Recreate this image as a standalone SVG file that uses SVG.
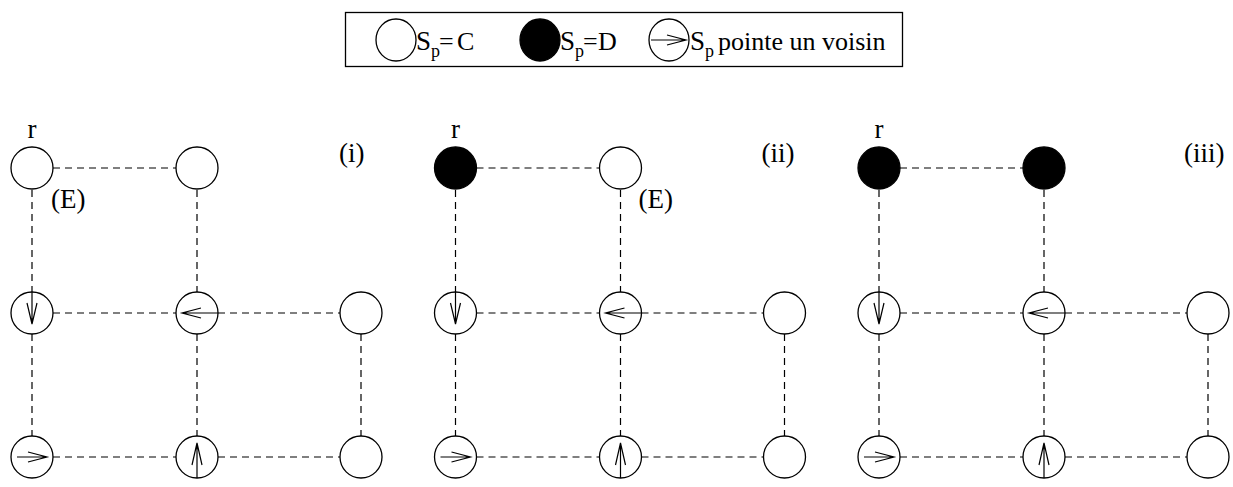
<svg xmlns="http://www.w3.org/2000/svg" width="1233" height="487" viewBox="0 0 1233 487">
<style>
.n{fill:#fff;stroke:#000;stroke-width:1.3}
.b{fill:#000;stroke:#000;stroke-width:1.3}
.e{stroke:#000;stroke-width:1.2;stroke-dasharray:7 5;fill:none}
.a{stroke:#000;stroke-width:1.2;fill:none}
</style>
<defs>
<path id="ad" class="a" d="M0,-21 V11 M-5,-10 L0,11 L5,-10"/>
<path id="al" class="a" d="M21,0 H-15 M4,-5 L-15,0 L4,5"/>
<path id="ar" class="a" d="M-15,0 H15 M-4,-5 L15,0 L-4,5"/>
<path id="au" class="a" d="M0,21 V-14 M-5,8 L0,-14 L5,8"/>
</defs>
<g id="legend" font-family="Liberation Serif, Times New Roman, serif" fill="#000">
<rect x="345.5" y="12.5" width="557" height="54" fill="#fff" stroke="#000" stroke-width="1.3"/>
<ellipse class="n" cx="396" cy="40" rx="20" ry="21"/>
<text font-size="27" x="416" y="50">S</text><text font-size="18" x="431" y="57">p</text><text font-size="26" x="439" y="50">=</text><text font-size="26" x="457" y="50">C</text>
<ellipse class="b" cx="540" cy="40" rx="20" ry="21"/>
<text font-size="27" x="560" y="50">S</text><text font-size="18" x="575" y="57">p</text><text font-size="26" x="583" y="50">=</text><text font-size="26" x="598" y="50">D</text>
<ellipse class="n" cx="669" cy="40" rx="20" ry="21"/>
<path class="a" d="M651,40 H686 M667,35 L686,40 L667,45"/>
<text font-size="27" x="690" y="50">S</text><text font-size="18" x="705" y="57">p</text><text font-size="26" x="718" y="50">pointe un voisin</text>
</g>
<g id="edges">
<path class="e" d="M53,168H176M32,190V292M197,190V292M53,313H176M218,313H340M32,334V436M197,334V436M361,334V436M53,457H176M218,457H340"/>
<path class="e" transform="translate(423.5,0)" d="M53,168H176M32,190V292M197,190V292M53,313H176M218,313H340M32,334V436M197,334V436M361,334V436M53,457H176M218,457H340"/>
<path class="e" transform="translate(847,0)" d="M53,168H176M32,190V292M197,190V292M53,313H176M218,313H340M32,334V436M197,334V436M361,334V436M53,457H176M218,457H340"/>
</g>
<g id="panel-i" font-family="Liberation Serif, Times New Roman, serif" font-size="27" fill="#000">
<text x="32" y="138" text-anchor="middle">r</text>
<text x="51" y="208">(E)</text>
<text x="339" y="162">(i)</text>
<g id="i-n1"><circle class="n" cx="32" cy="168" r="21"/></g>
<g id="i-n2"><circle class="n" cx="197" cy="168" r="21"/></g>
<g id="i-n3"><circle class="n" cx="32" cy="313" r="21"/><use href="#ad" x="32" y="313"/></g>
<g id="i-n4"><circle class="n" cx="197" cy="313" r="21"/><use href="#al" x="197" y="313"/></g>
<g id="i-n5"><circle class="n" cx="361" cy="313" r="21"/></g>
<g id="i-n6"><circle class="n" cx="32" cy="457" r="21"/><use href="#ar" x="32" y="457"/></g>
<g id="i-n7"><circle class="n" cx="197" cy="457" r="21"/><use href="#au" x="197" y="457"/></g>
<g id="i-n8"><circle class="n" cx="361" cy="457" r="21"/></g>
</g>
<g id="panel-ii" transform="translate(423.5,0)" font-family="Liberation Serif, Times New Roman, serif" font-size="27" fill="#000">
<text x="32" y="138" text-anchor="middle">r</text>
<text x="215" y="208">(E)</text>
<text x="338" y="162">(ii)</text>
<g id="ii-n1"><circle class="b" cx="32" cy="168" r="21"/></g>
<g id="ii-n2"><circle class="n" cx="197" cy="168" r="21"/></g>
<g id="ii-n3"><circle class="n" cx="32" cy="313" r="21"/><use href="#ad" x="32" y="313"/></g>
<g id="ii-n4"><circle class="n" cx="197" cy="313" r="21"/><use href="#al" x="197" y="313"/></g>
<g id="ii-n5"><circle class="n" cx="361" cy="313" r="21"/></g>
<g id="ii-n6"><circle class="n" cx="32" cy="457" r="21"/><use href="#ar" x="32" y="457"/></g>
<g id="ii-n7"><circle class="n" cx="197" cy="457" r="21"/><use href="#au" x="197" y="457"/></g>
<g id="ii-n8"><circle class="n" cx="361" cy="457" r="21"/></g>
</g>
<g id="panel-iii" transform="translate(847,0)" font-family="Liberation Serif, Times New Roman, serif" font-size="27" fill="#000">
<text x="32" y="138" text-anchor="middle">r</text>
<text x="337" y="162">(iii)</text>
<g id="iii-n1"><circle class="b" cx="32" cy="168" r="21"/></g>
<g id="iii-n2"><circle class="b" cx="197" cy="168" r="21"/></g>
<g id="iii-n3"><circle class="n" cx="32" cy="313" r="21"/><use href="#ad" x="32" y="313"/></g>
<g id="iii-n4"><circle class="n" cx="197" cy="313" r="21"/><use href="#al" x="197" y="313"/></g>
<g id="iii-n5"><circle class="n" cx="361" cy="313" r="21"/></g>
<g id="iii-n6"><circle class="n" cx="32" cy="457" r="21"/><use href="#ar" x="32" y="457"/></g>
<g id="iii-n7"><circle class="n" cx="197" cy="457" r="21"/><use href="#au" x="197" y="457"/></g>
<g id="iii-n8"><circle class="n" cx="361" cy="457" r="21"/></g>
</g>
</svg>
